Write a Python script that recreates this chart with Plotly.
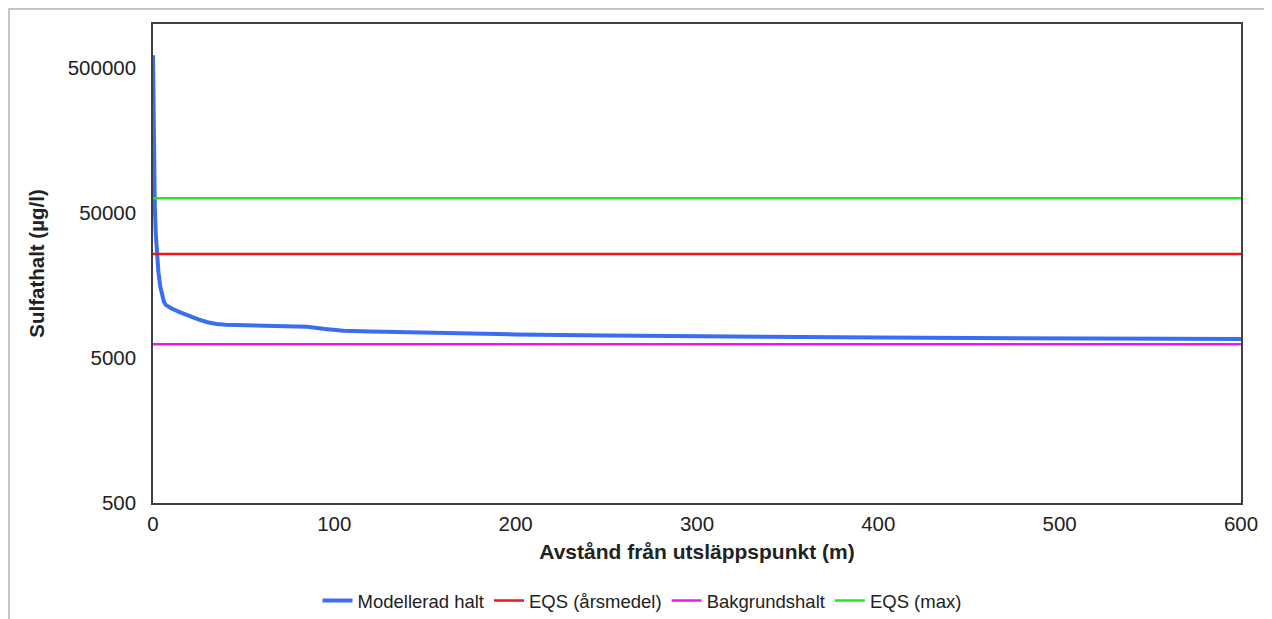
import plotly.graph_objects as go
import math

# Data
distance_m = [0, 0.3, 0.6, 1, 1.5, 2, 3, 4, 5, 6, 7, 10, 15, 20, 25, 30, 35, 40, 45, 55, 65, 75, 85, 95, 105,
              120, 150, 200, 250, 300, 350, 400, 450, 500, 550, 600]
modellerad_halt = [610000, 250000, 110000, 55000, 36000, 28000, 19500, 15500, 13300, 12200, 11600, 11000, 10300,
                   9700, 9200, 8800, 8550, 8450, 8420, 8450, 8380, 8300, 8180, 7900, 7700,
                   7600, 7450, 7250, 7120, 7020, 6960, 6900, 6850, 6810, 6780, 6750]
x_range_pts = [0, 600]
eqs_arsmedel = 26000
bakgrundshalt = 6200
eqs_max = 63000

y_tickvals = [500, 5000, 50000, 500000]
y_ticktext = ["500", "5000", "50000", "500000"]
x_tickvals = [0, 100, 200, 300, 400, 500, 600]

# the page body adds an 8 px offset, so the figure is sized to fill the rest of the window
OFF = 8
W, H = 1272 - OFF, 619 - OFF
L, T = 153 - OFF, 24 - OFF
R = W - (1241 - OFF)
B = H - (503 - OFF)
pw, ph = W - L - R, H - T - B

fig = go.Figure()
fig.add_trace(go.Scatter(x=distance_m, y=modellerad_halt, mode="lines", name="Modellerad halt",
                         line=dict(color="#3A6EF2", width=4)))
fig.add_trace(go.Scatter(x=x_range_pts, y=[eqs_arsmedel] * 2, mode="lines", name="EQS (årsmedel)",
                         line=dict(color="#F0161B", width=2.5)))
fig.add_trace(go.Scatter(x=x_range_pts, y=[bakgrundshalt] * 2, mode="lines", name="Bakgrundshalt",
                         line=dict(color="#F414F0", width=2.5)))
fig.add_trace(go.Scatter(x=x_range_pts, y=[eqs_max] * 2, mode="lines", name="EQS (max)",
                         line=dict(color="#1CEB1C", width=2.5)))

font_fam = "Liberation Sans, Arial, sans-serif"

fig.update_layout(
    width=W, height=H,
    margin=dict(l=L, r=R, t=T, b=B, autoexpand=False),
    paper_bgcolor="white", plot_bgcolor="white",
    font=dict(family=font_fam, color="#222222"),
    showlegend=True,
    legend=dict(orientation="h", x=0.5 - 55 / pw, xanchor="center", y=-98 / ph, yanchor="middle",
                font=dict(size=18.5, color="#222222"), itemwidth=30, tracegroupgap=0),
    xaxis=dict(range=[0, 600], tickvals=x_tickvals, showgrid=False, zeroline=False,
               showline=True, linecolor="#404040", linewidth=1.5, mirror=True, ticks="",
               tickfont=dict(size=20.5, color="#222222"), ticklabelstandoff=2,
               title=dict(text="<b>Avstånd från utsläppspunkt (m)</b>", font=dict(size=21, color="#222222"),
                          standoff=10)),
    yaxis=dict(type="log", range=[math.log10(500), math.log10(1000000)], tickvals=y_tickvals,
               ticktext=y_ticktext, showgrid=False, zeroline=False,
               showline=True, linecolor="#404040", linewidth=1.5, mirror=True, ticks="",
               tickfont=dict(size=20.5, color="#222222"), ticklabelstandoff=11,
               title=dict(text="<b>Sulfathalt (µg/l)</b>", font=dict(size=20.5, color="#222222"),
                          standoff=18)),
    shapes=[dict(type="rect", xref="paper", yref="paper",
                 x0=(1 - L) / pw, x1=(W + 10 - L) / pw,
                 y0=-(B + 10) / ph, y1=1 + (T - 1) / ph,
                 line=dict(color="#B4B4B4", width=1.5), fillcolor="rgba(0,0,0,0)", layer="below")],
)

fig.write_html("out.html")
